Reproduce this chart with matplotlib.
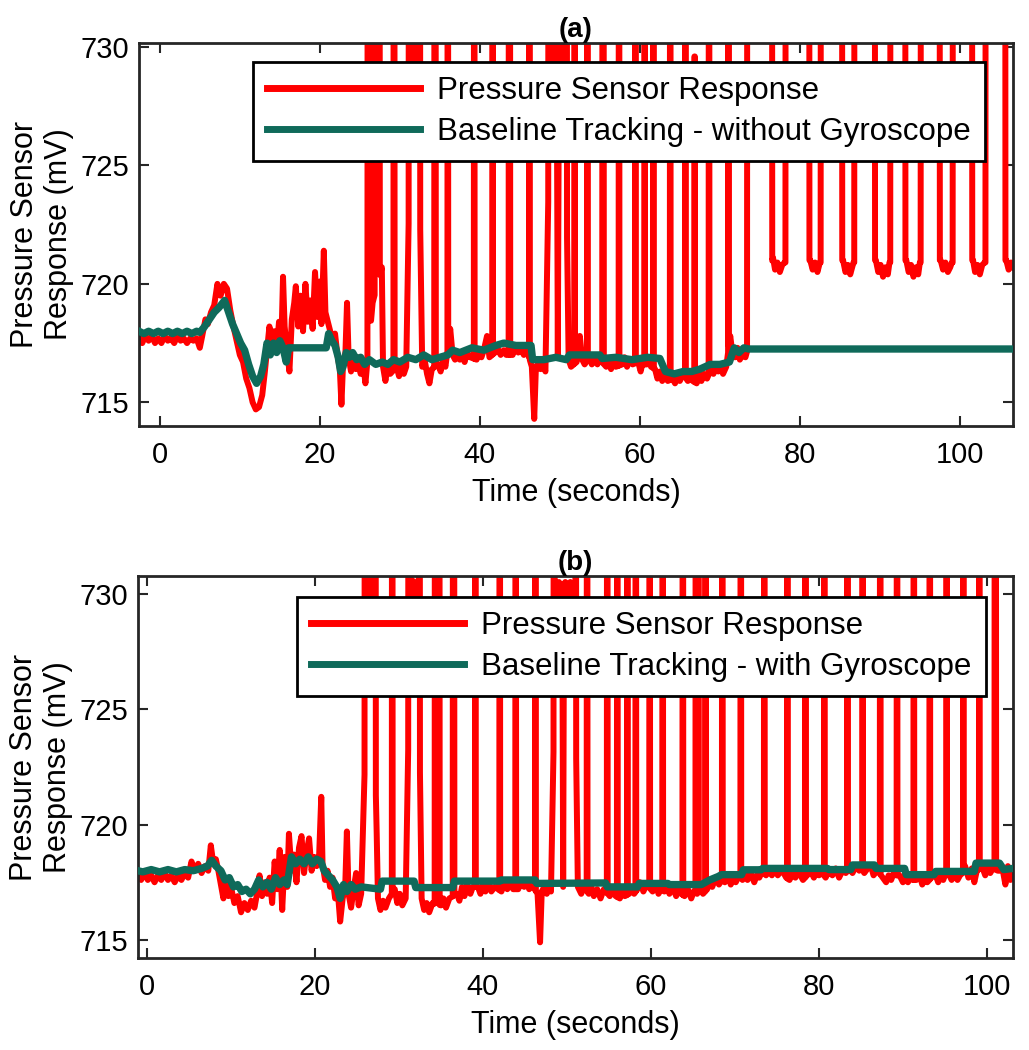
import numpy as np
import matplotlib
matplotlib.use("Agg")
import matplotlib.pyplot as plt
from matplotlib.lines import Line2D

plt.rcParams["font.family"] = ["Liberation Sans", "DejaVu Sans"]

# ======================= DATA: panel (a) =======================
# red trace, non-spike samples (time s, mV)
red_base_a = [
    (-2.6, 717.8), (-2.2, 717.5), (-1.8, 717.8), (-1.4, 717.6), (-1.0, 717.8), (-0.6, 717.5),
    (-0.2, 717.7), (0.2, 717.5), (0.6, 717.8), (1.0, 717.6), (1.4, 717.7), (1.8, 717.5),
    (2.2, 717.8), (2.6, 717.6), (3.0, 717.7), (3.4, 717.5), (3.8, 717.7), (4.2, 717.6),
    (4.6, 717.7), (5.0, 717.3), (5.3, 717.8), (5.7, 718.5), (6.0, 718.3), (6.4, 718.8),
    (6.8, 719.1), (7.2, 720.0), (7.6, 719.5), (8.0, 720.0), (8.4, 719.8), (8.8, 718.9),
    (9.2, 718.2), (9.6, 717.6), (10.0, 717.0), (10.4, 716.7), (10.8, 716.0), (11.2, 715.6),
    (11.6, 715.0), (12.0, 714.7), (12.4, 714.8), (12.8, 715.3), (13.1, 716.2), (13.4, 717.2),
    (13.7, 718.2), (14.0, 717.4), (14.3, 718.0), (14.6, 717.2), (14.9, 718.4), (15.2, 717.6),
    (15.4, 720.3), (15.6, 718.2), (15.9, 717.2), (16.2, 716.3), (16.5, 718.5), (16.8, 719.2),
    (17.0, 719.9), (17.3, 718.2), (17.6, 719.5), (17.9, 718.0), (18.2, 720.0), (18.5, 718.4),
    (18.8, 719.3), (19.1, 718.1), (19.4, 720.5), (19.7, 718.6), (20.0, 720.1), (20.2, 718.3),
    (20.5, 721.4), (20.7, 718.8), (21.0, 718.4), (21.3, 718.0), (21.6, 717.7), (21.9, 717.9),
    (22.2, 717.0), (22.5, 716.4), (22.7, 714.9), (22.9, 716.6), (23.2, 717.1), (23.4, 719.2),
    (23.6, 716.9), (23.9, 716.3), (24.2, 717.0), (24.5, 716.4), (24.8, 716.9), (25.1, 716.2),
    (25.4, 716.7), (25.7, 715.8), (26.6, 719.2), (27.75, 720.7), (27.9, 716.5), (28.2, 715.9),
    (28.5, 716.6), (28.8, 716.2), (29.6, 716.5), (29.9, 716.1), (30.2, 716.6), (30.5, 716.2),
    (30.8, 716.5), (31.45, 729.6), (31.6, 730.5), (31.75, 729.5), (31.9, 730.6), (32.05, 729.6),
    (32.2, 730.4), (32.8, 716.5), (33.1, 716.8), (33.4, 716.2), (33.7, 715.8), (34.0, 716.4),
    (34.8, 716.6), (35.1, 716.3), (35.4, 716.8), (35.7, 716.5), (36.3, 718.1), (36.6, 717.0),
    (36.9, 716.8), (37.2, 717.1), (37.5, 716.8), (37.8, 717.0), (38.1, 716.7), (38.4, 717.1),
    (38.8, 716.9), (39.6, 716.8), (39.9, 717.1), (40.2, 716.9), (40.5, 717.2), (40.9, 717.8),
    (41.2, 716.9), (41.9, 717.1), (42.2, 717.3), (42.6, 717.0), (43.0, 717.2), (43.3, 717.0),
    (44.1, 717.0), (44.4, 717.3), (44.8, 717.1), (45.2, 717.2), (45.5, 717.0), (45.8, 717.3),
    (46.5, 716.5), (46.8, 714.3), (47.0, 716.4), (47.3, 716.7), (47.6, 716.4), (47.9, 716.6),
    (48.2, 716.3), (48.85, 729.6), (49.0, 730.5), (49.15, 729.5), (49.3, 730.4), (49.45, 729.6),
    (49.6, 730.3), (49.75, 717.0), (49.9, 730.4), (50.05, 729.5), (50.2, 730.5), (50.35, 729.6),
    (50.5, 730.4), (50.6, 729.7), (51.1, 716.8), (51.4, 716.5), (52.1, 716.7), (52.5, 717.8),
    (52.8, 716.8), (53.1, 716.6), (53.7, 716.9), (54.0, 716.6), (54.3, 716.9), (54.7, 716.6),
    (55.0, 716.8), (55.8, 716.5), (56.1, 716.8), (56.4, 716.4), (56.7, 716.7), (57.0, 716.5),
    (57.8, 716.6), (58.1, 716.9), (58.4, 716.5), (58.7, 716.8), (59.1, 716.6), (59.8, 716.7),
    (60.1, 716.3), (60.3, 716.6), (60.9, 716.6), (61.2, 716.8), (61.4, 716.5), (61.9, 716.4),
    (62.2, 716.0), (62.5, 716.3), (62.8, 715.9), (63.1, 716.1), (63.5, 715.9), (64.1, 716.0),
    (64.4, 715.8), (64.7, 716.1), (65.0, 715.9), (65.4, 716.2), (66.0, 715.9), (66.3, 716.1),
    (66.6, 715.9), (67.1, 715.8), (67.4, 716.2), (67.7, 715.9), (68.0, 716.2), (68.4, 716.0),
    (68.9, 716.4), (69.2, 716.2), (69.5, 716.5), (69.8, 716.3), (70.1, 716.5), (70.4, 716.2),
    (70.8, 716.5), (71.3, 717.8), (71.6, 717.0), (71.9, 716.9), (72.2, 717.3), (72.5, 716.8),
    (72.8, 717.0), (73.2, 716.9),
    (76.65, 721.1), (76.9, 720.6), (77.2, 720.9), (77.5, 720.5), (77.8, 720.8), (78.1, 720.9),
    (81.3, 721.0), (81.6, 720.6), (81.9, 720.9), (82.2, 720.5), (82.5, 720.9),
    (85.4, 721.0), (85.7, 720.5), (86.0, 720.8), (86.3, 720.4), (86.7, 720.9),
    (89.5, 721.0), (89.8, 720.5), (90.1, 720.8), (90.4, 720.3), (90.7, 720.7), (91.0, 720.4),
    (91.2, 720.9),
    (93.3, 721.0), (93.6, 720.5), (93.9, 720.8), (94.2, 720.3), (94.5, 720.7), (94.8, 720.4),
    (95.0, 720.9),
    (97.6, 721.0), (97.9, 720.6), (98.2, 720.9), (98.5, 720.5), (98.8, 720.7), (99.0, 720.9),
    (101.65, 721.0), (101.9, 720.5), (102.2, 720.8), (102.5, 720.4), (102.8, 720.8), (103.1, 720.9),
    (105.8, 721.0), (106.1, 720.6), (106.4, 720.9), (106.7, 720.7),
]
# intervals where the red trace leaves the top of the plot: (start, end[, peak])
spikes_a = [
    (25.95, 26.4), (26.85, 27.5), (29.2, 29.35), (31.1, 31.3), (32.35, 32.55),
    (34.3, 34.5), (35.95, 36.05), (39.25, 39.35), (41.55, 41.65), (43.6, 43.8),
    (46.15, 46.25), (48.55, 48.7), (50.75, 50.9), (51.8, 51.9), (53.4, 53.5),
    (55.3, 55.5), (57.35, 57.45), (59.4, 59.5), (60.55, 60.65), (61.65, 61.75),
    (63.75, 63.85), (65.65, 65.75), (66.8, 66.9, 729.6), (68.6, 68.7), (71.03, 71.13),
    (73.4, 76.55), (78.2, 81.2), (82.6, 85.3), (86.8, 89.4), (91.3, 93.2),
    (95.1, 97.5), (99.1, 101.55), (103.2, 105.7),
]
# baseline tracking without gyroscope
green_a = [
    (-2.6, 718.0), (-2.0, 717.9), (-1.4, 718.0), (-0.8, 717.9), (-0.2, 718.0), (0.4, 717.9),
    (1.0, 718.0), (1.6, 717.9), (2.2, 718.0), (2.8, 717.9), (3.4, 718.0), (4.0, 717.9),
    (4.6, 718.0), (5.0, 717.95), (5.6, 718.2), (6.2, 718.5), (6.8, 718.8), (7.4, 719.0),
    (8.1, 719.3), (8.6, 718.8), (9.1, 718.3), (9.6, 717.9), (10.1, 717.5), (10.6, 717.2),
    (11.1, 716.6), (11.6, 716.1), (12.1, 715.8), (12.6, 716.1), (13.0, 716.6), (13.4, 717.5),
    (13.8, 717.0), (14.2, 717.5), (14.6, 717.1), (15.0, 717.6), (15.4, 717.3), (15.8, 716.7),
    (16.1, 717.3), (16.5, 717.3), (20.8, 717.3), (21.1, 717.9), (21.5, 717.6), (21.9, 717.4),
    (22.3, 716.9), (22.6, 716.3), (22.9, 716.5), (23.3, 717.1), (23.7, 716.9), (24.1, 717.1),
    (24.6, 716.8), (25.1, 716.9), (25.6, 716.6), (26.2, 716.8), (27.0, 716.6), (27.8, 716.7),
    (28.5, 716.6), (29.2, 716.8), (30.0, 716.7), (31.0, 716.9), (32.0, 716.8), (33.0, 717.0),
    (34.0, 716.8), (35.0, 716.9), (36.0, 717.0), (36.6, 717.2), (37.5, 717.1), (39.0, 717.3),
    (40.5, 717.2), (42.0, 717.4), (43.0, 717.5), (44.5, 717.4), (46.4, 717.4), (46.6, 716.8),
    (48.0, 716.8), (49.5, 716.9), (50.8, 716.8), (51.2, 717.0), (53.0, 717.0), (55.0, 717.0),
    (55.3, 716.85), (57.0, 716.9), (59.0, 716.8), (61.0, 716.9), (62.5, 716.85), (63.2, 716.3),
    (64.3, 716.2), (65.4, 716.3), (66.5, 716.3), (67.5, 716.4), (68.8, 716.6), (70.0, 716.6),
    (71.2, 716.7), (71.8, 717.3), (72.4, 717.1), (73.0, 717.3), (73.6, 717.25), (106.7, 717.25),
]

# ======================= DATA: panel (b) =======================
red_base_b = [
    (-1.1, 717.8), (-0.7, 717.6), (-0.3, 717.9), (0.1, 717.6), (0.5, 717.8), (0.9, 717.5),
    (1.3, 717.8), (1.7, 717.6), (2.1, 717.9), (2.5, 717.6), (2.9, 717.8), (3.3, 717.5),
    (3.7, 717.8), (4.1, 717.6), (4.5, 717.9), (4.9, 717.7), (5.3, 718.4), (5.7, 718.0),
    (6.1, 718.3), (6.5, 717.9), (6.9, 718.2), (7.3, 718.0), (7.6, 719.1), (7.9, 718.3),
    (8.2, 718.5), (8.5, 718.0), (8.8, 717.4), (9.1, 716.8), (9.4, 717.6), (9.7, 716.9),
    (10.0, 717.3), (10.4, 716.6), (10.8, 716.9), (11.2, 716.2), (11.6, 716.6), (12.0, 716.3),
    (12.4, 716.7), (12.8, 716.4), (13.1, 717.0), (13.4, 717.8), (13.7, 716.9), (14.0, 717.5),
    (14.3, 717.0), (14.6, 717.7), (14.9, 716.6), (15.2, 718.4), (15.5, 717.2), (15.8, 718.9),
    (16.1, 716.3), (16.4, 718.6), (16.7, 717.3), (16.9, 719.6), (17.2, 718.0), (17.5, 718.7),
    (17.8, 717.5), (18.1, 719.0), (18.4, 719.5), (18.7, 717.9), (19.0, 718.8), (19.3, 719.4),
    (19.6, 718.0), (19.9, 718.6), (20.2, 718.2), (20.5, 718.7), (20.75, 721.2), (20.9, 718.3),
    (21.2, 717.6), (21.5, 718.0), (21.8, 717.3), (22.1, 717.7), (22.4, 716.8), (22.7, 717.2),
    (23.0, 715.8), (23.3, 716.8), (23.6, 717.3), (23.8, 719.7), (24.0, 717.0), (24.3, 716.4),
    (24.6, 717.2), (24.9, 717.9), (25.2, 716.5), (25.5, 717.0), (26.5, 729.9), (26.7, 730.4),
    (27.35, 719.6), (27.5, 716.8), (27.8, 716.3), (28.1, 716.7), (28.4, 716.4), (28.8, 716.8),
    (29.5, 717.2), (29.8, 716.6), (30.1, 717.0), (30.4, 716.5), (30.8, 716.8), (31.4, 729.7),
    (31.55, 730.6), (31.7, 729.6), (31.85, 730.5), (32.0, 729.5), (32.2, 730.4), (32.7, 716.8),
    (33.0, 716.3), (33.3, 716.6), (33.6, 716.2), (34.0, 716.6), (35.0, 716.5), (35.3, 716.8),
    (35.6, 716.4), (36.0, 716.8), (36.9, 717.0), (37.2, 716.7), (37.5, 717.3), (37.8, 716.9),
    (38.1, 717.4), (38.5, 717.0), (38.8, 717.3), (39.4, 717.3), (39.7, 717.0), (40.0, 717.4),
    (40.3, 717.1), (40.7, 717.5), (41.0, 717.1), (41.4, 717.3), (42.2, 717.1), (42.5, 717.4),
    (42.9, 717.2), (43.3, 717.5), (43.6, 717.2), (44.2, 717.2), (44.5, 717.5), (44.9, 717.3),
    (45.2, 717.6), (45.5, 717.2), (45.8, 717.4), (46.5, 717.0), (46.8, 714.9), (47.0, 717.1),
    (47.3, 717.3), (47.6, 717.0), (47.9, 717.4), (48.1, 717.1), (48.75, 730.2), (48.9, 729.6),
    (49.05, 730.5), (49.2, 729.7), (49.35, 730.4), (49.45, 729.6), (49.55, 717.3), (49.65, 729.8),
    (49.8, 730.5), (49.95, 729.6), (50.1, 730.4), (50.25, 729.5), (50.4, 730.5), (50.55, 729.7),
    (50.7, 730.3), (50.85, 729.8), (51.3, 717.3), (51.7, 717.0), (52.0, 717.3), (52.6, 717.0),
    (52.9, 717.3), (53.2, 716.9), (53.6, 717.2), (54.0, 716.8), (54.4, 717.2), (55.1, 716.9),
    (55.5, 717.2), (55.8, 716.9), (56.3, 716.8), (56.6, 717.1), (56.9, 716.9), (57.4, 717.0),
    (57.7, 717.3), (58.0, 717.0), (58.4, 717.2), (58.7, 717.5), (59.1, 717.1), (59.5, 717.4),
    (60.2, 717.1), (60.6, 717.4), (60.9, 717.0), (61.2, 717.2), (61.6, 717.1), (61.9, 717.4),
    (62.2, 717.0), (62.6, 717.3), (63.0, 716.9), (63.3, 717.2), (63.6, 717.0), (64.0, 716.9),
    (64.4, 717.2), (64.8, 716.8), (65.1, 717.1), (65.5, 717.0), (65.9, 717.3), (66.2, 717.0),
    (66.7, 717.2), (67.0, 717.6), (67.3, 717.3), (67.7, 717.7), (68.1, 717.4), (68.4, 717.6),
    (68.8, 717.5), (69.2, 717.8), (69.5, 717.4), (69.8, 717.7), (70.1, 717.5), (70.5, 717.8),
    (70.9, 717.6), (71.2, 718.0), (71.5, 717.6), (71.9, 717.9), (72.3, 717.5), (72.6, 717.8),
    (72.9, 717.7), (73.3, 718.0), (73.7, 717.8), (74.0, 718.0), (74.4, 717.8), (74.8, 718.1),
    (75.1, 717.8), (75.5, 718.0), (75.8, 717.9), (76.1, 717.7), (76.5, 717.6), (76.9, 717.9),
    (77.2, 717.7), (77.5, 718.0), (77.8, 717.8), (78.1, 717.6), (78.6, 717.8), (79.0, 718.0),
    (79.4, 717.7), (79.7, 718.0), (80.0, 717.8), (80.4, 717.9), (80.8, 717.7), (81.2, 718.0),
    (81.6, 717.8), (82.0, 718.1), (82.4, 717.7), (82.8, 718.0), (83.2, 717.9), (83.6, 718.1),
    (84.0, 717.9), (84.4, 718.2), (84.8, 718.0), (85.1, 718.1), (85.4, 717.9), (85.8, 718.1),
    (86.2, 718.2), (86.5, 717.8), (86.9, 718.0), (87.2, 717.9), (87.6, 717.7), (88.0, 717.5),
    (88.3, 717.8), (88.6, 717.6), (88.9, 717.9), (89.2, 717.8), (89.6, 717.8), (90.0, 717.5),
    (90.3, 717.9), (90.6, 717.5), (90.9, 717.7), (91.2, 717.6), (91.6, 717.6), (92.0, 717.8),
    (92.3, 717.4), (92.6, 717.7), (92.9, 717.5), (93.4, 717.7), (93.8, 717.9), (94.2, 717.5),
    (94.5, 717.8), (94.8, 717.6), (95.1, 717.9), (95.4, 717.9), (95.8, 717.6), (96.2, 717.9),
    (96.5, 717.6), (96.8, 717.8), (97.1, 717.9), (97.4, 718.2), (97.8, 717.7), (98.2, 718.1),
    (98.5, 717.5), (98.8, 718.0), (99.2, 718.1), (99.5, 718.1), (99.8, 717.8), (100.1, 718.2),
    (100.4, 717.9), (100.7, 718.1), (101.3, 718.0), (101.9, 718.0), (102.2, 717.4),
    (102.5, 718.2), (102.8, 717.6), (103.1, 718.0),
]
spikes_b = [
    (25.9, 26.3), (26.85, 27.25), (29.15, 29.25), (31.1, 31.25), (32.35, 32.5),
    (34.25, 34.85), (36.4, 36.6), (39.05, 39.15), (41.95, 42.05), (43.85, 43.95),
    (46.2, 46.3), (48.4, 48.55), (51.0, 51.1), (52.35, 52.45), (54.75, 54.85),
    (55.95, 56.05), (57.15, 57.25), (58.15, 58.25), (59.8, 59.9), (61.35, 61.45),
    (63.75, 63.85), (65.3, 65.4), (65.6, 65.7), (66.45, 66.55), (68.45, 68.55),
    (70.65, 70.75), (73.45, 73.55), (76.2, 76.3), (78.35, 78.45), (80.6, 80.7),
    (83.35, 83.45), (85.15, 85.25), (87.25, 87.35), (89.25, 89.35), (91.25, 91.35),
    (93.15, 93.25), (95.15, 95.25), (97.15, 97.25), (99.05, 99.15), (100.9, 101.1),
]
# baseline tracking with gyroscope
green_b = [
    (-1.1, 718.0), (-0.5, 717.95), (0.5, 718.05), (1.5, 717.95), (2.5, 718.05), (3.5, 717.95),
    (4.5, 718.05), (5.5, 718.0), (6.5, 718.1), (7.2, 718.2), (7.7, 718.45), (8.2, 718.2),
    (8.8, 718.0), (9.3, 717.6), (9.8, 717.7), (10.3, 717.3), (10.8, 717.4), (11.3, 717.1),
    (11.8, 717.2), (12.3, 717.0), (12.8, 717.2), (13.3, 717.6), (13.8, 717.3), (14.3, 717.5),
    (14.8, 717.2), (15.3, 717.7), (15.8, 717.4), (16.3, 717.6), (16.7, 717.4), (17.2, 718.6),
    (17.7, 718.3), (18.2, 718.5), (18.7, 718.3), (19.2, 718.6), (19.7, 718.3), (20.2, 718.5),
    (20.7, 718.4), (21.1, 718.0), (21.6, 717.8), (22.1, 717.6), (22.6, 717.3), (23.0, 716.8),
    (23.4, 717.4), (23.8, 717.1), (24.3, 717.4), (24.8, 717.2), (25.5, 717.3), (27.8, 717.2),
    (28.0, 717.55), (31.8, 717.55), (32.0, 717.27), (36.4, 717.27), (36.6, 717.55),
    (42.0, 717.55), (42.2, 717.6), (46.2, 717.6), (46.4, 717.45), (54.6, 717.47),
    (54.8, 717.3), (58.4, 717.3), (58.6, 717.45), (62.0, 717.45), (62.2, 717.4),
    (66.0, 717.4), (67.0, 717.6), (68.0, 717.75), (68.4, 717.83), (70.8, 717.83),
    (71.0, 718.04), (73.1, 718.04), (73.3, 718.1), (81.0, 718.1), (81.2, 718.05),
    (83.8, 718.05), (84.0, 718.25), (86.6, 718.25), (86.8, 718.1), (90.2, 718.1),
    (90.4, 717.83), (93.7, 717.83), (93.9, 717.97), (98.5, 717.97), (98.7, 718.33),
    (101.5, 718.33), (102.0, 718.05), (103.1, 718.1),
]

x_ticks = [0, 20, 40, 60, 80, 100]
y_ticks = [715, 720, 725, 730]
xlim_a, ylim_a = (-2.6, 106.65), (714.0, 730.17)
xlim_b, ylim_b = (-1.07, 103.1), (714.22, 730.76)
label_red = "Pressure Sensor Response"
label_green_a = "Baseline Tracking - without Gyroscope"
label_green_b = "Baseline Tracking - with Gyroscope"

# ======================= helpers =======================
RED = "#ff0000"
GREEN = "#0f6a5a"
INK = "#262626"


def red_series(base, spikes):
    bt = np.array([p[0] for p in base], float)
    bv = np.array([p[1] for p in base], float)
    pts = [(t, v) for t, v in base if not any(s[0] < t < s[1] for s in spikes)]
    for s in spikes:
        a, b = s[0], s[1]
        pk = s[2] if len(s) > 2 else 745.0
        e = min(0.03, (b - a) / 4)
        pts += [(a, float(np.interp(a, bt, bv))), (a + e, pk),
                (b - e, pk), (b, float(np.interp(b, bt, bv)))]
    pts.sort(key=lambda p: p[0])
    arr = np.array(pts)
    return arr[:, 0], arr[:, 1]


def xy(pairs):
    arr = np.array(pairs, float)
    return arr[:, 0], arr[:, 1]


def style(ax, xlim, ylim, title, green_label, leg_anchor):
    ax.set_xlim(*xlim)
    ax.set_ylim(*ylim)
    ax.set_xticks(x_ticks)
    ax.set_yticks(y_ticks)
    ax.tick_params(direction="in", length=7.5, width=1.5, top=True, right=True,
                   labelsize=21, colors=INK, labelcolor="black")
    ax.tick_params(axis="x", pad=10.5)
    ax.tick_params(axis="y", pad=7)
    for sp in ax.spines.values():
        sp.set_linewidth(2.0)
        sp.set_color(INK)
    ax.set_title(title, fontsize=20, fontweight="bold", pad=4)
    ax.set_xlabel("Time (seconds)", fontsize=22)
    ax.set_ylabel("Pressure Sensor\nResponse (mV)", fontsize=22, linespacing=1.2)
    ax.xaxis.set_label_coords(0.5, -0.137)
    ax.yaxis.set_label_coords(-0.074, 0.5)
    handles = [Line2D([], [], color=RED, lw=5.0),
               Line2D([], [], color=GREEN, lw=5.0)]
    leg = ax.legend(handles, [label_red, green_label], loc="upper right",
                    bbox_to_anchor=leg_anchor, bbox_transform=ax.transAxes,
                    borderaxespad=0, fontsize=22.5, handlelength=4.9,
                    handletextpad=0.55, borderpad=0.45, labelspacing=0.35,
                    frameon=True, fancybox=False, framealpha=1)
    leg.get_frame().set_edgecolor("black")
    leg.get_frame().set_linewidth(2.0)
    leg.set_zorder(10)


fig = plt.figure(figsize=(10.29, 10.5), dpi=100)
ax_a = fig.add_axes([0.1351, 0.5943, 0.8494, 0.3648])
ax_b = fig.add_axes([0.1341, 0.0876, 0.8503, 0.3638])

rt, rv = red_series(red_base_a, spikes_a)
gt, gv = xy(green_a)
ax_a.plot(rt, rv, color=RED, lw=4.3, solid_joinstyle="round", zorder=2)
ax_a.plot(gt, gv, color=GREEN, lw=5.3, solid_joinstyle="round", zorder=3)
style(ax_a, xlim_a, ylim_a, "(a)", label_green_a, (0.968, 0.9504))

rt, rv = red_series(red_base_b, spikes_b)
gt, gv = xy(green_b)
ax_b.plot(rt, rv, color=RED, lw=4.3, solid_joinstyle="round", zorder=2)
ax_b.plot(gt, gv, color=GREEN, lw=5.3, solid_joinstyle="round", zorder=3)
style(ax_b, xlim_b, ylim_b, "(b)", label_green_b, (0.969, 0.945))

fig.savefig("out.png", dpi=100, facecolor="white")
